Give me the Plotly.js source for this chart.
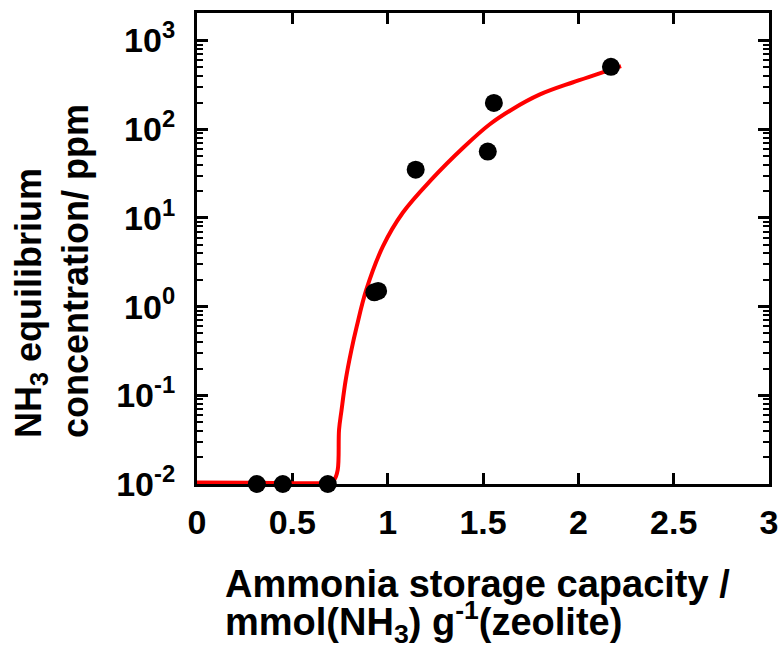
<!DOCTYPE html>
<html>
<head>
<meta charset="utf-8">
<script src="https://cdn.plot.ly/plotly-3.0.1.min.js"></script>
<style>html,body{margin:0;padding:0;background:#fff;}#chart{width:783px;height:651px;}</style>
</head>
<body>
<div id="chart"></div>
<script>
// Measured data points (ammonia storage capacity vs equilibrium concentration)
const capacity = [0.314, 0.45, 0.686, 0.93, 0.95, 1.147, 1.525, 1.557, 2.171];
const concentration = [0.01, 0.01, 0.01, 1.45, 1.5, 35, 56, 198, 505];

// Fitted curve
const fitX = [0, 0.30, 0.60, 0.69, 0.72, 0.738, 0.745, 0.758, 0.78, 0.81, 0.838, 0.888, 0.975, 1.08, 1.229, 1.40, 1.534, 1.65, 1.796, 1.969, 2.10, 2.224];
const fitY = [0.0104, 0.0103, 0.0102, 0.0103, 0.0112, 0.0144, 0.041, 0.068, 0.149, 0.325, 0.60, 1.55, 4.77, 11.5, 27, 63, 113, 166, 245, 336, 417, 513];

const yTickVals = [0.01, 0.1, 1, 10, 100, 1000];
const yTickText = ['10<sup>-2</sup>', '10<sup>-1</sup>', '10<sup>0</sup>', '10<sup>1</sup>', '10<sup>2</sup>', '10<sup>3</sup>'];
const xTickVals = [0, 0.5, 1, 1.5, 2, 2.5, 3];
const xTickText = ['0', '0.5', '1', '1.5', '2', '2.5', '3'];

const xTitle1 = 'Ammonia storage capacity /';
const xTitle2 = 'mmol(NH<sub>3</sub>) g<sup>-1</sup>(zeolite)';
const yTitle = 'NH<sub>3</sub> equilibrium<br>concentration/ ppm';

// minor log tick positions (2..9 within each decade)
const minorVals = [];
for (let d = -2; d <= 3; d++) {
  for (let k = 2; k <= 9; k++) minorVals.push(k * Math.pow(10, d));
}

const FONT = 'Liberation Sans, Arial, Helvetica, sans-serif';

const traces = [
  {
    x: fitX, y: fitY, type: 'scatter', mode: 'lines',
    line: {color: '#ff0000', width: 4, shape: 'spline', smoothing: 1},
    showlegend: false, hoverinfo: 'x+y'
  },
  {
    x: capacity, y: concentration, type: 'scatter', mode: 'markers',
    marker: {color: '#000000', size: 18},
    cliponaxis: false, showlegend: false, hoverinfo: 'x+y'
  }
];

const layout = {
  width: 783, height: 651,
  margin: {l: 197, r: 14, t: 13, b: 167},
  paper_bgcolor: '#ffffff', plot_bgcolor: '#ffffff',
  showlegend: false,
  font: {family: FONT, color: '#000000'},
  xaxis: {
    range: [0, 3],
    tickmode: 'array', tickvals: xTickVals, ticktext: xTickText,
    ticks: 'inside', ticklen: 11, tickwidth: 3, tickcolor: '#000',
    showline: true, linewidth: 3, linecolor: '#000', mirror: 'allticks',
    showgrid: false, zeroline: false,
    tickfont: {family: FONT, size: 34, weight: 'bold', color: '#000'},
    ticklabelstandoff: 6,
    layer: 'below traces'
  },
  yaxis: {
    type: 'log',
    range: [-2, 3.31],
    tickmode: 'array', tickvals: yTickVals, ticktext: yTickText,
    ticks: 'inside', ticklen: 11, tickwidth: 3, tickcolor: '#000',
    minor: {tickmode: 'array', tickvals: minorVals, ticks: 'inside', ticklen: 6, tickwidth: 2, tickcolor: '#000', showgrid: false},
    showline: true, linewidth: 3, linecolor: '#000', mirror: 'allticks',
    showgrid: false, zeroline: false,
    tickfont: {family: FONT, size: 34, weight: 'bold', color: '#000'},
    ticklabelstandoff: 12,
    layer: 'below traces'
  },
  annotations: [
    {
      text: xTitle1, xref: 'paper', yref: 'paper',
      x: 0.0455, y: -0.212, xanchor: 'left', yanchor: 'middle',
      showarrow: false, align: 'left',
      font: {family: FONT, size: 38, weight: 'bold', color: '#000'}
    },
    {
      text: xTitle2, xref: 'paper', yref: 'paper',
      x: 0.0455, y: -0.292, xanchor: 'left', yanchor: 'middle',
      showarrow: false, align: 'left',
      font: {family: FONT, size: 38, weight: 'bold', color: '#000'}
    },
    {
      text: yTitle, xref: 'paper', yref: 'paper',
      x: -0.2535, y: 0.452, xanchor: 'center', yanchor: 'middle',
      textangle: -90, showarrow: false, align: 'left',
      font: {family: FONT, size: 36, weight: 'bold', color: '#000'}
    }
  ]
};

Plotly.newPlot('chart', traces, layout, {displayModeBar: false, staticPlot: true});
</script>
</body>
</html>
